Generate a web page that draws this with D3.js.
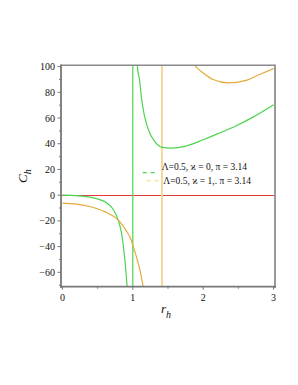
<!DOCTYPE html>
<html>
<head>
<meta charset="utf-8">
<script src="https://cdn.jsdelivr.net/npm/d3@7/dist/d3.min.js"></script>
<style>
  html, body { margin: 0; padding: 0; background: #fff; }
  svg { display: block; }
  text { font-family: "Liberation Serif", "DejaVu Serif", serif; fill: #111; }
</style>
</head>
<body>
<div id="chart"></div>
<script>
/* ── data ──────────────────────────────────────────────── */

// Λ=0.5, ϰ=0 (green), left branch
const greenLeftR = [0, 0.2, 0.39, 0.53, 0.63, 0.72, 0.79, 0.84, 0.877, 0.9, 0.93];
const greenLeftC = [0, -0.4, -1.5, -3.5, -6, -11, -19, -29.6, -45, -58, -78];
// green right branch
const greenRightR = [1.05, 1.066, 1.1, 1.122, 1.17, 1.24, 1.31, 1.405, 1.55, 1.74, 2.0, 2.23, 2.47, 2.7, 3.0];
const greenRightC = [125, 100, 88, 76, 60.6, 48.3, 41.8, 37.4, 36.6, 37.9, 43.1, 48.3, 54, 60.5, 70.4];

// Λ=0.5, ϰ=1 (orange), left branch
const orangeLeftR = [0, 0.2, 0.4, 0.6, 0.815, 0.91, 0.957, 1.05, 1.1, 1.15];
const orangeLeftC = [-6.2, -7.0, -9.0, -12.8, -20.6, -28, -32.3, -47.8, -58, -72];
// orange right branch
const orangeRightR = [1.86, 1.894, 2.0, 2.14, 2.35, 2.61, 2.8, 3.0];
const orangeRightC = [102, 100, 95, 89.9, 87.3, 89.3, 93.8, 98.4];

// vertical jumps drawn by the plotter
const jumpR = [1, 1.414];

const xTicks = [0, 1, 2, 3];
const xMinor = [0.5, 1.5, 2.5];
const yTicks = [-60, -40, -20, 0, 20, 40, 60, 80, 100];
const yMinor = [-70, -50, -30, -10, 10, 30, 50, 70, 90];

const legendLabels = ["Λ=0.5,  ϰ = 0, π = 3.14", "Λ=0.5, ϰ = 1,. π = 3.14"];

/* ── drawing ───────────────────────────────────────────── */

const W = 298, H = 385;
const GREEN = '#4cd44c', ORANGE = '#e6aa3a', ORANGE_LIGHT = '#f3d89a', RED = '#e23a3a';

const x = d3.scaleLinear().domain([-0.02, 3.02]).range([61, 275]);
const y = d3.scaleLinear().domain([-71.2, 101]).range([286.7, 65.3]);

const svg = d3.select('#chart').append('svg')
  .attr('width', W).attr('height', H);

svg.append('rect').attr('width', W).attr('height', H).attr('fill', '#fff');

svg.append('clipPath').attr('id', 'plot')
  .append('rect')
  .attr('x', x.range()[0]).attr('y', y.range()[1])
  .attr('width', x.range()[1] - x.range()[0])
  .attr('height', y.range()[0] - y.range()[1]);

const plot = svg.append('g').attr('clip-path', 'url(#plot)');

// zero line
plot.append('line')
  .attr('x1', x.range()[0]).attr('x2', x.range()[1])
  .attr('y1', Math.round(y(0)) + 0.5).attr('y2', Math.round(y(0)) + 0.5)
  .attr('stroke', RED).attr('stroke-width', 1)
  .attr('shape-rendering', 'crispEdges');

// vertical jumps
plot.append('line')
  .attr('x1', x(jumpR[0])).attr('x2', x(jumpR[0]))
  .attr('y1', y.range()[0]).attr('y2', y.range()[1])
  .attr('stroke', GREEN).attr('stroke-width', 1.2);
plot.append('line')
  .attr('x1', x(jumpR[1])).attr('x2', x(jumpR[1]))
  .attr('y1', y.range()[0]).attr('y2', y.range()[1])
  .attr('stroke', ORANGE_LIGHT).attr('stroke-width', 2);

const line = d3.line()
  .x(d => x(d[0])).y(d => y(d[1]))
  .curve(d3.curveMonotoneX);

function branch(rs, cs, color) {
  plot.append('path')
    .datum(rs.map((r, i) => [r, cs[i]]))
    .attr('d', line)
    .attr('fill', 'none')
    .attr('stroke', color)
    .attr('stroke-width', 1.2);
}

branch(greenLeftR, greenLeftC, GREEN);
branch(greenRightR, greenRightC, GREEN);
branch(orangeLeftR, orangeLeftC, ORANGE);
branch(orangeRightR, orangeRightC, ORANGE);

// frame
svg.append('line').attr('x1', x.range()[0]).attr('x2', x.range()[1])
  .attr('y1', y.range()[1]).attr('y2', y.range()[1])
  .attr('stroke', '#8a8a8a').attr('stroke-width', 1.5);
svg.append('line').attr('x1', x.range()[1]).attr('x2', x.range()[1])
  .attr('y1', y.range()[1] - 0.75).attr('y2', y.range()[0] + 1)
  .attr('stroke', '#9a9a9a').attr('stroke-width', 2);

// axes
const axisColor = '#777';
const yAxis = svg.append('g');
yAxis.append('line')
  .attr('x1', x.range()[0]).attr('x2', x.range()[0])
  .attr('y1', y.range()[1] - 0.75).attr('y2', y.range()[0] + 1)
  .attr('stroke', axisColor).attr('stroke-width', 1.8);
yAxis.selectAll('.major').data(yTicks).join('line')
  .attr('x1', x.range()[0] - 3.5).attr('x2', x.range()[0])
  .attr('y1', d => y(d)).attr('y2', d => y(d))
  .attr('stroke', axisColor).attr('stroke-width', 1);
yAxis.selectAll('.minor').data(yMinor).join('line')
  .attr('x1', x.range()[0] - 2).attr('x2', x.range()[0])
  .attr('y1', d => y(d)).attr('y2', d => y(d))
  .attr('stroke', axisColor).attr('stroke-width', 1);
yAxis.selectAll('text').data(yTicks).join('text')
  .attr('x', 55).attr('y', d => y(d) + 3.5)
  .attr('text-anchor', 'end')
  .attr('font-size', 10)
  .text(d => d < 0 ? '\u2212' + Math.abs(d) : d);

const xAxis = svg.append('g');
xAxis.append('line')
  .attr('x1', x.range()[0] - 1).attr('x2', x.range()[1] + 1)
  .attr('y1', y.range()[0]).attr('y2', y.range()[0])
  .attr('stroke', axisColor).attr('stroke-width', 1.8);
xAxis.selectAll('.major').data(xTicks).join('line')
  .attr('x1', d => x(d)).attr('x2', d => x(d))
  .attr('y1', y.range()[0]).attr('y2', y.range()[0] + 3)
  .attr('stroke', axisColor).attr('stroke-width', 1);
xAxis.selectAll('.minor').data(xMinor).join('line')
  .attr('x1', d => x(d)).attr('x2', d => x(d))
  .attr('y1', y.range()[0]).attr('y2', y.range()[0] + 2)
  .attr('stroke', axisColor).attr('stroke-width', 1);
xAxis.selectAll('text').data(xTicks).join('text')
  .attr('x', d => x(d)).attr('y', 301)
  .attr('text-anchor', 'middle')
  .attr('font-size', 10)
  .text(d => d);

// axis titles
const xt = svg.append('text')
  .attr('x', 161).attr('y', 313)
  .attr('font-size', 13).attr('font-style', 'italic');
xt.append('tspan').text('r');
xt.append('tspan').attr('dy', 5).attr('font-size', 10).text('h');

const yt = svg.append('text')
  .attr('transform', 'translate(27,183) rotate(-90)')
  .attr('font-size', 13).attr('font-style', 'italic');
yt.append('tspan').text('C');
yt.append('tspan').attr('dy', 4).attr('font-size', 10).text('h');

// legend
const legend = [
  { color: GREEN, x0: 142.7, dy: 172.7, tx: 161.7, ty: 169.5 },
  { color: '#f6e08c', x0: 146.7, dy: 180.7, tx: 163.3, ty: 184 }
];
legend.forEach((l, i) => {
  svg.append('line')
    .attr('x1', l.x0).attr('x2', l.x0 + 12.5)
    .attr('y1', l.dy).attr('y2', l.dy)
    .attr('stroke', l.color).attr('stroke-width', 1.2)
    .attr('stroke-dasharray', '4,4');
  svg.append('text')
    .attr('x', l.tx).attr('y', l.ty)
    .attr('font-size', 9.5)
    .text(legendLabels[i]);
});
</script>
</body>
</html>
